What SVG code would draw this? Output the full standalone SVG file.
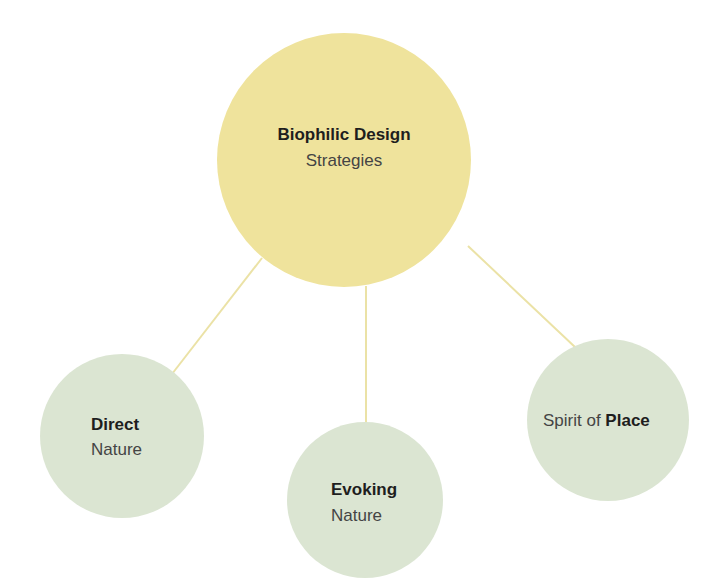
<svg xmlns="http://www.w3.org/2000/svg" width="709" height="579" viewBox="0 0 709 579">
<style>
.main{fill:#efe39c}
.sub{fill:#dbe5d2}
.conn{stroke:#ebe2a6;stroke-width:2;fill:none}
text{font-family:"Liberation Sans",Arial,sans-serif;font-size:17px}
.b{font-weight:bold;fill:#1e1e1e}
.r{fill:#444}
</style>
<rect width="709" height="579" fill="#ffffff"/>
<g id="connectors">
<line class="conn" x1="262" y1="258" x2="172" y2="374"/>
<line class="conn" x1="366" y1="286" x2="366" y2="423"/>
<line class="conn" x1="468" y1="246" x2="576" y2="348"/>
</g>
<g id="node-main">
<circle class="main" cx="344" cy="160" r="127"/>
<text x="344" y="140" text-anchor="middle" class="b">Biophilic Design</text>
<text x="344" y="166" text-anchor="middle" class="r">Strategies</text>
</g>
<g id="node-direct">
<circle class="sub" cx="122" cy="436" r="82"/>
<text x="91" y="430" class="b">Direct</text>
<text x="91" y="455" class="r">Nature</text>
</g>
<g id="node-evoking">
<circle class="sub" cx="365" cy="500" r="78"/>
<text x="331" y="495" class="b">Evoking</text>
<text x="331" y="521" class="r">Nature</text>
</g>
<g id="node-spirit">
<circle class="sub" cx="608" cy="420" r="81"/>
<text x="543" y="426" class="r">Spirit of <tspan class="b">Place</tspan></text>
</g>
</svg>
